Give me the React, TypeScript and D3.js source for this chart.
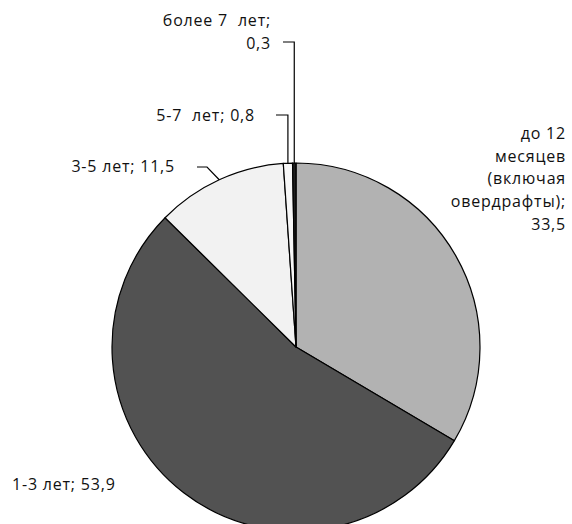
import React from "react";
import * as d3 from "d3";

const categories = [
  "до 12 месяцев (включая овердрафты)",
  "1-3 лет",
  "3-5 лет",
  "5-7 лет",
  "более 7 лет",
];
const shares = [33.5, 53.9, 11.5, 0.8, 0.3];
const labelLines = [
  ["до 12", "месяцев", "(включая", "овердрафты);", "33,5"],
  ["1-3 лет; 53,9"],
  ["3-5 лет; 11,5"],
  ["5-7  лет; 0,8"],
  ["более 7  лет;", "0,3"],
];
const fills = ["#b2b2b2", "#525252", "#f2f2f2", "#f7f7f7", "#1e1e1e"];

const W = 572;
const H = 524;
const cx = 296;
const cy = 347;
const R = 184;

export default function App() {
  const pie = d3.pie<number>().sort(null).value((d) => d);
  const arcs = pie(shares);
  const arcGen = d3.arc<d3.PieArcDatum<number>>().innerRadius(0).outerRadius(R);

  // point on the rim at the middle of a slice
  const rim = (i: number) => {
    const a = (arcs[i].startAngle + arcs[i].endAngle) / 2;
    return [Math.sin(a) * R, -Math.cos(a) * R];
  };

  const font = "'Open Sans', sans-serif";
  const fs = 16;

  // label placement: anchor, x, first baseline, and leader start
  const labels = [
    { i: 0, anchor: "end", x: 566, y: 139, leader: null as null | number[] },
    { i: 1, anchor: "start", x: 12, y: 490, leader: null },
    { i: 2, anchor: "end", x: 175, y: 172, leader: [197, 167, 207] },
    { i: 3, anchor: "end", x: 255, y: 121, leader: [276, 115] },
    { i: 4, anchor: "end", x: 271, y: 26, leader: [283, 42] },
  ];

  return (
    <svg width={W} height={H} style={{ position: "absolute", left: 0, top: 0 }}>
      <rect width={W} height={H} fill="#ffffff" />
      <g transform={`translate(${cx},${cy})`}>
        {arcs.map((a, i) => (
          <path
            key={categories[i]}
            d={arcGen(a) || ""}
            fill={fills[i]}
            stroke="#000"
            strokeWidth={1.2}
            strokeLinejoin="round"
          />
        ))}
        {labels.map((l) => {
          if (!l.leader) return null;
          const [px, py] = rim(l.i);
          const lx = l.leader[0] - cx;
          const ly = l.leader[1] - cy;
          let pts: number[][];
          if (l.leader.length === 3) {
            pts = [[lx, ly], [l.leader[2] - cx, ly], [px, py]];
          } else {
            pts = [[lx, ly], [px, ly], [px, py]];
          }
          return (
            <polyline
              key={"ld" + l.i}
              points={pts.map((p) => p.join(",")).join(" ")}
              fill="none"
              stroke="#000"
              strokeWidth={1.2}
            />
          );
        })}
      </g>
      {labels.map((l) => (
        <text
          key={"lb" + l.i}
          x={l.x}
          y={l.y}
          textAnchor={l.anchor as any}
          fontFamily={font}
          fontSize={fs}
          letterSpacing={0.8}
          fill="#111"
          style={{ whiteSpace: "pre" }}
        >
          {labelLines[l.i].map((s, k) => (
            <tspan key={k} x={l.x} dy={k === 0 ? 0 : 22.7}>
              {s}
            </tspan>
          ))}
        </text>
      ))}
    </svg>
  );
}
